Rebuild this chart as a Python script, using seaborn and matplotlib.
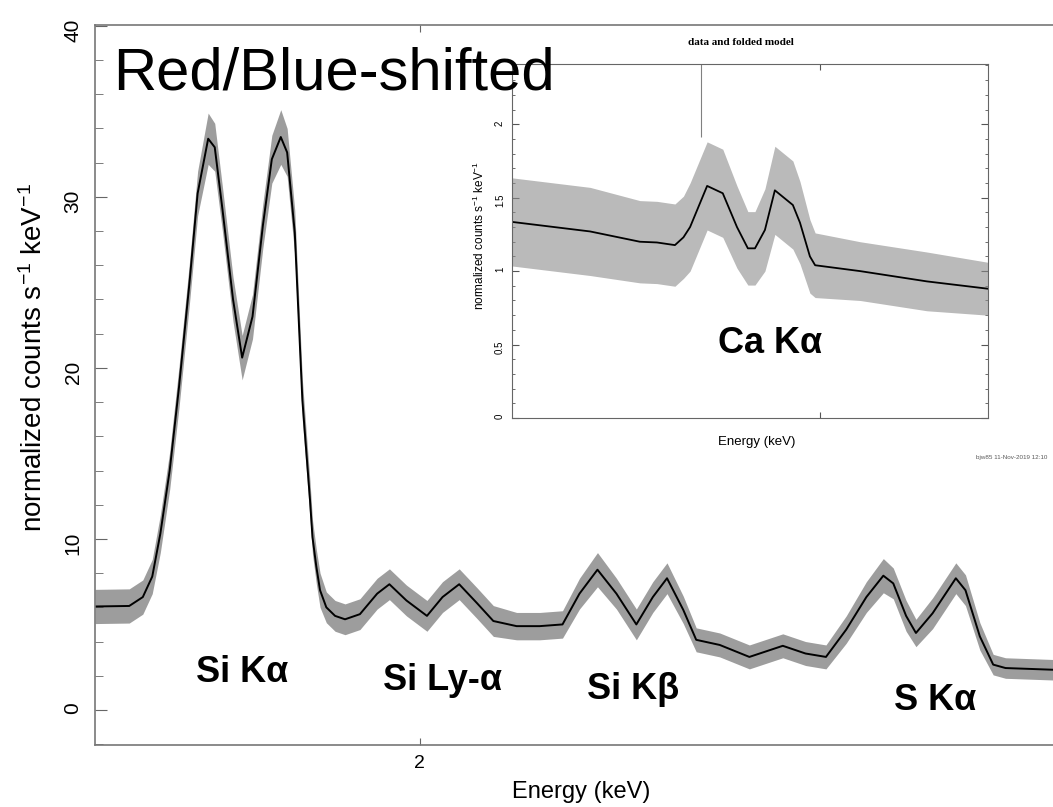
import matplotlib
matplotlib.use("Agg")
import matplotlib.pyplot as plt
from matplotlib.ticker import MultipleLocator, NullLocator
import seaborn as sns

# main spectrum: energy (keV), folded model and rough scatter of the data around it
energy = [1.748, 1.773, 1.783, 1.790, 1.796, 1.803, 1.810, 1.818, 1.824, 1.832,
          1.837, 1.843, 1.851, 1.858, 1.866, 1.874, 1.881, 1.888, 1.893, 1.899,
          1.905, 1.908, 1.911, 1.913, 1.916, 1.919, 1.924, 1.931, 1.939, 1.951,
          1.965, 1.975, 1.989, 2.006, 2.019, 2.033, 2.048, 2.062, 2.082, 2.102,
          2.122, 2.137, 2.153, 2.170, 2.188, 2.203, 2.216, 2.231, 2.243, 2.265,
          2.293, 2.325, 2.347, 2.367, 2.387, 2.407, 2.424, 2.434, 2.447, 2.457,
          2.474, 2.498, 2.508, 2.523, 2.537, 2.550, 2.601, 2.630]
model = [6.05, 6.08, 6.6, 7.8, 10.3, 14.0, 18.9, 25.1, 30.2, 33.4,
         32.9, 29.2, 24.0, 20.6, 23.0, 28.3, 32.2, 33.5, 32.6, 27.9,
         18.1, 15.2, 12.3, 10.1, 8.4, 7.0, 6.0, 5.5, 5.3, 5.6,
         6.8, 7.35, 6.4, 5.5, 6.6, 7.35, 6.25, 5.2, 4.9, 4.9,
         5.0, 6.8, 8.2, 6.8, 5.0, 6.6, 7.7, 5.85, 4.1, 3.8,
         3.1, 3.75, 3.3, 3.1, 4.7, 6.6, 7.85, 7.4, 5.5, 4.5,
         5.65, 7.7, 7.0, 4.3, 2.65, 2.45, 2.35, 2.3]
scatter = [1.0, 1.0, 1.0, 1.0, 1.1, 1.1, 1.2, 1.2, 1.3, 1.5,
           1.4, 1.3, 1.3, 1.3, 1.3, 1.3, 1.4, 1.6, 1.4, 1.3,
           1.2, 1.1, 1.1, 1.0, 1.0, 1.0, 0.9, 0.9, 0.9, 0.9,
           0.9, 0.9, 0.9, 0.9, 0.9, 0.9, 0.9, 0.9, 0.8, 0.8,
           0.8, 0.9, 1.0, 0.9, 0.9, 0.9, 0.9, 0.8, 0.7, 0.7,
           0.7, 0.7, 0.7, 0.7, 0.8, 0.9, 1.0, 0.9, 0.9, 0.8,
           0.9, 0.9, 0.9, 0.8, 0.6, 0.6, 0.6, 0.6]

line_names = ["Si Kα", "Si Ly-α", "Si Kβ", "S Kα"]
line_energy = [1.858, 2.019, 2.185, 2.477]
line_level = [2.2, 1.75, 1.17, 0.58]

# inset: Ca K alpha region
ca_energy = [3.350, 3.515, 3.620, 3.656, 3.694, 3.712, 3.726, 3.762, 3.795, 3.825,
             3.848, 3.863, 3.884, 3.905, 3.943, 3.958, 3.979, 3.990, 4.085, 4.226, 4.355]
ca_model = [1.335, 1.27, 1.20, 1.195, 1.177, 1.23, 1.30, 1.58, 1.53, 1.30,
            1.155, 1.155, 1.28, 1.55, 1.45, 1.33, 1.10, 1.04, 1.00, 0.93, 0.88]
ca_scatter = [0.3, 0.3, 0.28, 0.28, 0.28, 0.28, 0.3, 0.3, 0.3, 0.28,
              0.25, 0.25, 0.28, 0.3, 0.3, 0.28, 0.25, 0.22, 0.2, 0.2, 0.18]
spike_energy = [3.749]
spike_low = [1.91]
spike_high = [2.41]

sns.set_style("ticks")
plt.rcParams["font.family"] = ["Liberation Sans", "DejaVu Sans"]
plt.rcParams["mathtext.fontset"] = "custom"
plt.rcParams["mathtext.rm"] = "Liberation Sans"
plt.rcParams["mathtext.default"] = "rm"
plt.rcParams["text.color"] = "black"
plt.rcParams["axes.labelcolor"] = "black"
plt.rcParams["xtick.labelcolor"] = "black"
plt.rcParams["ytick.labelcolor"] = "black"

ylab = r"normalized counts s$^{-1}$ keV$^{-1}$"

fig = plt.figure(figsize=(10.53, 8.07), dpi=100)

# main axes run past the right edge, like the cropped original
ax = fig.add_axes([95 / 1053, 62 / 807, 985 / 1053, 720 / 807])
low = [m - s for m, s in zip(model, scatter)]
high = [m + s for m, s in zip(model, scatter)]
ax.fill_between(energy, low, high, color="0.3", alpha=0.55, linewidth=0)
sns.lineplot(x=energy, y=model, ax=ax, color="black", linewidth=1.4)

ax.set_xscale("log")
ax.set_xlim(1.748, 2.630)
ax.set_ylim(-2.05, 40.05)
ax.set_xticks([2], labels=["2"])
ax.xaxis.set_minor_locator(NullLocator())
ax.set_yticks([0, 10, 20, 30, 40])
ax.yaxis.set_minor_locator(MultipleLocator(2))
ax.tick_params(axis="x", which="major", direction="in", length=5, top=True,
               labelsize=14, pad=7, color="#666")
ax.tick_params(axis="y", which="major", direction="in", length=8.5,
               labelsize=15, labelrotation=90, pad=9, color="#666")
ax.tick_params(axis="y", which="minor", direction="in", length=5.5, color="#666")
for sp in ax.spines.values():
    sp.set_color("#777")
    sp.set_linewidth(1.2)

ax.set_xlabel("Energy (keV)", fontsize=17)
ax.xaxis.set_label_coords(0.4934, -0.05)
ax.set_ylabel(ylab, fontsize=20)
ax.yaxis.set_label_coords(-0.048, 0.5375)

for name, e, lvl in zip(line_names, line_energy, line_level):
    ax.text(e, lvl, name, fontsize=26, fontweight="bold", ha="center", va="center")

# inset
ax_in = fig.add_axes([512 / 1053, 389 / 807, 476 / 1053, 354 / 807])
ax_in.set_facecolor("white")
ca_low = [m - s for m, s in zip(ca_model, ca_scatter)]
ca_high = [m + s for m, s in zip(ca_model, ca_scatter)]
ax_in.fill_between(ca_energy, ca_low, ca_high, color="0.55", alpha=0.6, linewidth=0)
ax_in.vlines(spike_energy, spike_low, spike_high, color="0.5", linewidth=0.8)
sns.lineplot(x=ca_energy, y=ca_model, ax=ax_in, color="black", linewidth=1.3)

ax_in.set_xlim(3.35, 4.355)
ax_in.set_ylim(0, 2.41)
ax_in.set_xticks([4.0])
ax_in.xaxis.set_minor_locator(NullLocator())
ax_in.set_yticks([0, 0.5, 1, 1.5, 2], labels=["0", "0.5", "1", "1.5", "2"])
ax_in.yaxis.set_minor_locator(MultipleLocator(0.1))
ax_in.tick_params(axis="x", direction="in", length=4, top=True, labelbottom=False,
                  color="#555")
ax_in.tick_params(axis="y", which="major", direction="in", length=5, right=True,
                  labelsize=7, labelrotation=90, pad=5, color="#555")
ax_in.tick_params(axis="y", which="minor", direction="in", length=2.5, right=True,
                  color="#555")
for sp in ax_in.spines.values():
    sp.set_color("#666")
    sp.set_linewidth(0.8)
ax_in.set_xlabel("Energy (keV)", fontsize=9.5)
ax_in.xaxis.set_label_coords(0.513, -0.052)
ax_in.set_ylabel(ylab, fontsize=8.5)
ax_in.yaxis.set_label_coords(-0.052, 0.517)
ax_in.text(0.481, 1.062, "data and folded model", transform=ax_in.transAxes,
           fontsize=8, fontweight="bold", family="Liberation Serif",
           ha="center", va="center")
ax_in.text(3.895, 0.51, "Ca Kα", fontsize=26, fontweight="bold",
           ha="center", va="center")

fig.text(1047 / 1053, 1 - 457 / 807, "bjw85 11-Nov-2019 12:10", fontsize=4.5,
         color="0.35", ha="right", va="center")
fig.text(113 / 1053, 1 - 90 / 807, "Red/Blue-shifted", fontsize=43,
         ha="left", va="baseline")

fig.savefig("out.png", dpi=100)
